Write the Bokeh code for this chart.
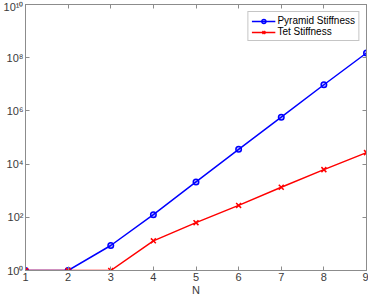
from bokeh.plotting import figure
from bokeh.models import FixedTicker, CustomJSTickFormatter, LinearAxis, LogAxis, Range1d
from bokeh.embed import file_html
from bokeh.resources import INLINE

N = [1, 2, 3, 4, 5, 6, 7, 8, 9]
pyramid = [1, 1, 8.7, 126, 2130, 36000, 5.8e5, 9.6e6, 1.5e8]
tet = [1, 1, 1, 13, 63, 280, 1350, 6200, 27000]
x_ticks = [1, 2, 3, 4, 5, 6, 7, 8, 9]
y_ticks = [1, 1e2, 1e4, 1e6, 1e8, 1e10]

FONT = "Liberation Sans"
AX = "#8c8c8c"
TXT = "#3a3a3a"

p = figure(frame_width=341, frame_height=266, y_axis_type="log",
           x_range=Range1d(1, 9), y_range=Range1d(1, 1e10),
           output_backend="svg", toolbar_location=None,
           min_border_left=18, min_border_right=2, min_border_top=4, min_border_bottom=0)
p.grid.visible = False
p.outline_line_color = AX
p.outline_line_width = 1

fmt = CustomJSTickFormatter(code="""
const sup = {'0':'\u2070','1':'\u00b9','2':'\u00b2','3':'\u00b3','4':'\u2074','5':'\u2075','6':'\u2076','7':'\u2077','8':'\u2078','9':'\u2079'};
const e = Math.round(Math.log10(tick));
return '10' + String(e).split('').map(c => sup[c]).join('');
""")
blank = CustomJSTickFormatter(code="return '';")

p.xaxis.ticker = FixedTicker(ticks=x_ticks)
p.yaxis.ticker = FixedTicker(ticks=y_ticks)
p.yaxis.formatter = fmt
p.xaxis.axis_label = "N"

for ax in [p.xaxis[0], p.yaxis[0]]:
    ax.axis_line_color = AX
    ax.major_tick_line_color = AX
    ax.major_tick_in = 4
    ax.major_tick_out = 0
    ax.minor_tick_line_color = None
    ax.major_label_text_font = FONT
    ax.major_label_text_font_size = "11px"
    ax.major_label_text_color = TXT
    ax.major_label_standoff = 2
    ax.axis_label_text_font = FONT
    ax.axis_label_text_font_size = "11px"
    ax.axis_label_text_color = TXT
    ax.axis_label_text_font_style = "normal"
    ax.axis_label_standoff = 0

extra = dict(formatter=blank, major_label_text_color=None, major_label_text_font_size="1px",
             axis_line_color=AX, major_tick_line_color=AX, major_tick_in=4, major_tick_out=0,
             minor_tick_line_color=None, major_label_standoff=0, axis_label_standoff=0,
             axis_label_text_font_size="1px")
top = LinearAxis(ticker=FixedTicker(ticks=x_ticks), **extra)
right = LogAxis(ticker=FixedTicker(ticks=y_ticks), **extra)
p.add_layout(top, "above")
p.add_layout(right, "right")

p.line(N, pyramid, line_color="#0000ff", line_width=1.5, legend_label="Pyramid Stiffness")
p.scatter(N, pyramid, marker="circle", size=5.5, line_color="#0000ff", fill_color="#0000ff",
          fill_alpha=0.25, line_width=1.5, legend_label="Pyramid Stiffness")
p.line(N, tet, line_color="#ff0000", line_width=1.5, legend_label="Tet Stiffness")
p.scatter(N, tet, marker="x", size=7, line_color="#ff0000", line_width=1.5,
          legend_label="Tet Stiffness")

lg = p.legend[0]
lg.location = "top_right"
lg.margin = 7
lg.padding = 3
lg.spacing = 0
lg.label_text_font = FONT
lg.label_text_font_size = "10px"
lg.label_text_color = "#000000"
lg.label_height = 10
lg.glyph_height = 10
lg.glyph_width = 24
lg.label_standoff = 2
lg.border_line_color = AX
lg.border_line_width = 1
lg.background_fill_alpha = 1

open("out.html", "w").write(file_html(p, INLINE))
